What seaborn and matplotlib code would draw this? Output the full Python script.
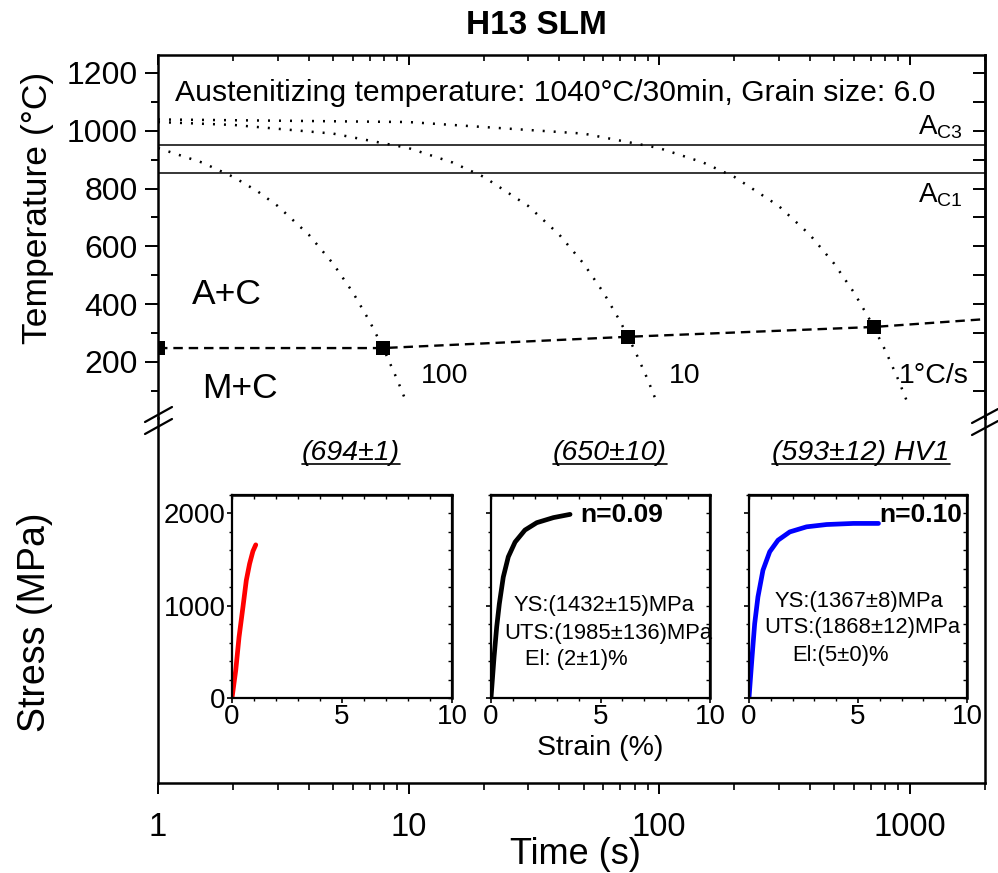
import matplotlib
matplotlib.use("Agg")
import matplotlib.pyplot as plt
import seaborn as sns
from matplotlib.lines import Line2D
from matplotlib.transforms import IdentityTransform
from matplotlib.ticker import MultipleLocator, LogLocator, NullFormatter

# CCT diagram: cooling curves (time in s, temperature in C)
cool_100_t = [1, 1.5, 2, 2.5, 3, 4, 5, 6, 7, 8, 9, 9.6]
cool_100_T = [940, 890, 840, 790, 740, 640, 540, 440, 340, 240, 140, 80]
cool_10_t = [1, 2, 5, 10, 15, 20, 30, 40, 50, 60, 70, 80, 90, 99]
cool_10_T = [1030, 1020, 990, 940, 890, 840, 740, 640, 540, 440, 340, 240, 140, 50]
cool_1_t = [1, 10, 50, 100, 150, 200, 300, 400, 500, 600, 700, 800, 900, 985]
cool_1_T = [1039, 1030, 990, 940, 890, 840, 740, 640, 540, 440, 340, 240, 140, 55]
rate_labels = ["100", "10", "1°C/s"]

# martensite start line and measured points
ms_t = [1, 7.9, 75, 720, 2000]
ms_T = [248, 248, 287, 321, 348]
sq_t = [1, 7.9, 75, 720]
sq_T = [248, 248, 287, 321]

# critical temperatures
ac3 = 950
ac1 = 855

# tensile curves (strain %, stress MPa)
red_strain = [0, 0.17, 0.32, 0.5, 0.65, 0.8, 0.95, 1.08]
red_stress = [0, 300, 660, 990, 1275, 1455, 1590, 1660]
black_strain = [0, 0.14, 0.26, 0.38, 0.56, 0.79, 1.10, 1.55, 2.09, 2.85, 3.61]
black_stress = [0, 445, 770, 1020, 1310, 1530, 1690, 1820, 1900, 1955, 1990]
blue_strain = [0, 0.14, 0.26, 0.41, 0.64, 0.95, 1.33, 1.87, 2.64, 3.56, 4.79, 5.94]
blue_stress = [0, 445, 805, 1095, 1385, 1585, 1710, 1800, 1855, 1880, 1892, 1892]

hardness = ["(694±1)", "(650±10)", "(593±12) HV1"]
n_values = [None, "n=0.09", "n=0.10"]
props = [None,
         ["YS:(1432±15)MPa", "UTS:(1985±136)MPa", "El: (2±1)%"],
         ["YS:(1367±8)MPa", "UTS:(1868±12)MPa", "El:(5±0)%"]]

W, H = 998, 873

sns.set_theme(style="ticks")
plt.rcParams["font.family"] = ["Liberation Sans", "DejaVu Sans"]
plt.rcParams["mathtext.fontset"] = "custom"
plt.rcParams["mathtext.rm"] = "Liberation Sans"
plt.rcParams["mathtext.it"] = "Liberation Sans:italic"
for k in ["text.color", "axes.labelcolor", "xtick.color", "ytick.color", "axes.edgecolor"]:
    plt.rcParams[k] = "black"
plt.rcParams["axes.linewidth"] = 1.8


def box(l, t, r, b):
    return [l / W, 1 - b / H, (r - l) / W, (b - t) / H]


def fx(x):
    return x / W


def fy(y):
    return 1 - y / H


fig = plt.figure(figsize=(W / 100, H / 100), dpi=100)

# ---- upper part: temperature vs time ----
ax_top = fig.add_axes(box(158, 55, 985, 418))
ax_top.set_xscale("log")
dots = (0, (0.8, 3.6))
for t, T in [(cool_100_t, cool_100_T), (cool_10_t, cool_10_T), (cool_1_t, cool_1_T)]:
    sns.lineplot(x=t, y=T, ax=ax_top, color="black", lw=1.8, linestyle=dots,
                 sort=False, estimator=None)
ax_top.axhline(ac3, color="black", lw=1.1)
ax_top.axhline(ac1, color="black", lw=1.1)
sns.lineplot(x=ms_t, y=ms_T, ax=ax_top, color="black", lw=1.7,
             linestyle=(0, (4, 2.5)), sort=False, estimator=None)
sns.scatterplot(x=sq_t, y=sq_T, ax=ax_top, marker="s", s=95, color="black",
                linewidth=0, zorder=5)
ax_top.set_xlim(1, 2000)
ax_top.set_ylim(6, 1262)
ax_top.spines["bottom"].set_visible(False)
ax_top.yaxis.set_minor_locator(MultipleLocator(100))
ax_top.set_yticks([200, 400, 600, 800, 1000, 1200])
ax_top.tick_params(axis="y", which="major", direction="out", length=9.5, width=1.4,
                   labelsize=23, pad=5, left=True, right=False)
ax_top.tick_params(axis="y", which="minor", direction="out", length=5, width=1.4,
                   left=True, right=False)
ax_top.tick_params(axis="x", which="major", direction="in", length=7.5, width=1.4,
                   bottom=False, top=True, labelbottom=False, labeltop=False)
ax_top.tick_params(axis="x", which="minor", direction="in", length=4.5, width=1.2,
                   bottom=False, top=True)
sec = ax_top.secondary_yaxis("right")
sec.yaxis.set_major_locator(MultipleLocator(100))
sec.tick_params(axis="y", which="both", direction="in", length=8.5, width=1.4,
                labelright=False)
sec.spines["right"].set_linewidth(1.8)
ax_top.set_xlabel("")
ax_top.set_ylabel("")

# ---- lower part: shared time axis ----
ax_low = fig.add_axes(box(158, 418, 985, 783))
ax_low.set_xscale("log")
ax_low.set_xlim(1, 2000)
ax_low.set_ylim(0, 1)
ax_low.set_yticks([])
ax_low.spines["top"].set_visible(False)
ax_low.set_xticks([1, 10, 100, 1000], labels=["1", "10", "100", "1000"])
ax_low.xaxis.set_minor_locator(LogLocator(base=10, subs=range(2, 10)))
ax_low.xaxis.set_minor_formatter(NullFormatter())
ax_low.tick_params(axis="x", which="major", direction="out", length=8, width=1.4,
                   labelsize=23.5, pad=13)
ax_low.tick_params(axis="x", which="minor", direction="out", length=5, width=1.2)
ax_low.patch.set_alpha(0)

# ---- tensile insets ----
insets = [(232, 452, red_strain, red_stress, "red"),
          (491, 710, black_strain, black_stress, "black"),
          (749, 967, blue_strain, blue_stress, "blue")]
for i, (l, r, strain, stress, col) in enumerate(insets):
    iax = fig.add_axes(box(l, 495, r, 698))
    sns.lineplot(x=strain, y=stress, ax=iax, color=col, lw=3.4,
                 sort=False, estimator=None)
    iax.set_xlim(0, 10)
    iax.set_ylim(0, 2200)
    iax.set_xticks([0, 5, 10])
    iax.set_yticks([0, 1000, 2000])
    iax.xaxis.set_minor_locator(MultipleLocator(1))
    iax.yaxis.set_minor_locator(MultipleLocator(200))
    iax.tick_params(which="major", direction="out", length=3.6, width=1.2,
                    labelsize=20, pad=1, labelleft=(i == 0))
    iax.tick_params(which="minor", direction="out", length=2.2, width=1.0)
    for s in iax.spines.values():
        s.set_linewidth(1.6)
    st = iax.secondary_xaxis("top")
    st.xaxis.set_major_locator(MultipleLocator(1))
    st.tick_params(direction="in", length=3, width=1.0, labeltop=False)
    sr = iax.secondary_yaxis("right")
    sr.yaxis.set_major_locator(MultipleLocator(200))
    sr.tick_params(direction="in", length=3, width=1.0, labelright=False)
    iax.set_xlabel("")
    iax.set_ylabel("")

# ---- texts ----
fig.text(fx(536), fy(25), "H13 SLM", ha="center", va="center", fontsize=24,
         fontweight="bold")
fig.text(fx(175), fy(93), "Austenitizing temperature: 1040°C/30min, Grain size: 6.0",
         ha="left", va="center", fontsize=21.7)
fig.text(fx(38), fy(208), "Temperature (°C)", rotation=90, ha="center", va="center",
         fontsize=25.5)
fig.text(fx(918), fy(127), r"A$_{\rm C3}$", ha="left", va="center", fontsize=20)
fig.text(fx(918), fy(195), r"A$_{\rm C1}$", ha="left", va="center", fontsize=20)
fig.text(fx(227), fy(295), "A+C", ha="center", va="center", fontsize=25.5)
fig.text(fx(240), fy(388), "M+C", ha="center", va="center", fontsize=25.5)
for x, lab in zip([445, 685, 934], rate_labels):
    fig.text(fx(x), fy(376), lab, ha="center", va="center", fontsize=20.5)

hard_txt = []
for x, lab in zip([351, 610, 861], hardness):
    hard_txt.append(fig.text(fx(x), fy(453), lab, ha="center", va="center",
                             fontsize=20.5, style="italic"))

fig.text(fx(35), fy(622), "Stress (MPa)", rotation=90, ha="center", va="center",
         fontsize=27)
fig.text(fx(600), fy(748), "Strain (%)", ha="center", va="center", fontsize=20.5)
fig.text(fx(575), fy(855), "Time (s)", ha="center", va="center", fontsize=26)

fig.text(fx(580), fy(515), n_values[1], ha="left", va="center", fontsize=19,
         fontweight="bold")
fig.text(fx(879), fy(515), n_values[2], ha="left", va="center", fontsize=19,
         fontweight="bold")
for (xs, ys), lines in zip([([604, 608, 576], [605, 633, 660]),
                            ([859, 862, 840], [602, 628, 655])], props[1:]):
    for x, y, s in zip(xs, ys, lines):
        fig.text(fx(x), fy(y), s, ha="center", va="center", fontsize=15.8)

# axis break marks
for x0, y0, x1, y1 in [(145, 422, 172, 407), (145, 434, 172, 419),
                       (972, 423, 998, 409), (972, 435, 998, 421)]:
    fig.add_artist(Line2D([fx(x0), fx(x1)], [fy(y0), fy(y1)], color="black", lw=1.6,
                          transform=fig.transFigure))

# underline hardness values
fig.canvas.draw()
rend = fig.canvas.get_renderer()
for t in hard_txt:
    bb = t.get_window_extent(rend)
    fig.add_artist(Line2D([bb.x0, bb.x1], [bb.y0 + 2, bb.y0 + 2], color="black",
                          lw=1.2, transform=IdentityTransform()))

fig.savefig("out.png", dpi=100)
